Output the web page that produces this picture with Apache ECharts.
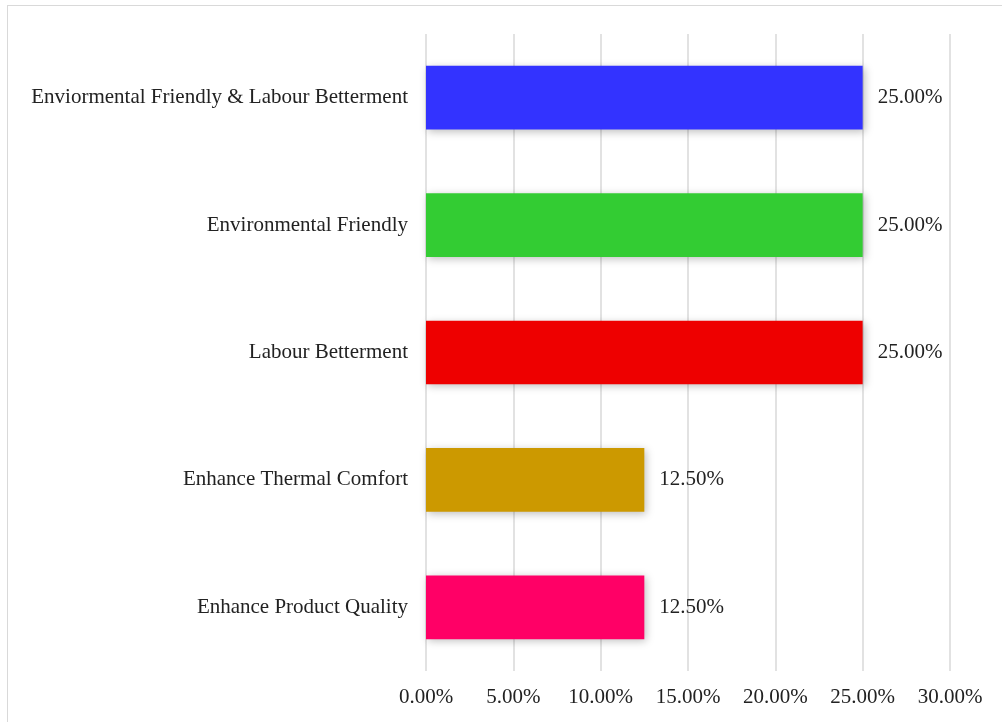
<!DOCTYPE html>
<html><head><meta charset="utf-8">
<script src="https://cdn.jsdelivr.net/npm/echarts@6/dist/echarts.min.js"></script>
<style>
html,body{margin:0;padding:0;background:#fff;}
#frame{position:absolute;left:7px;top:5px;width:1000px;height:720px;border:1.5px solid #d9d9d9;box-sizing:border-box;}
#c{position:absolute;left:0;top:0;width:1002px;height:722px;}
</style></head>
<body><div id="frame"></div><div id="c"></div>
<script>
const categories = ["Enhance Product Quality","Enhance Thermal Comfort","Labour Betterment","Environmental Friendly","Enviormental Friendly & Labour Betterment"];
const values = [12.5, 12.5, 25, 25, 25];
const colors = ["#ff0066","#cc9900","#ee0000","#33cc33","#3333ff"];
const xTicks = [0,5,10,15,20,25,30];
const chart = echarts.init(document.getElementById('c'));
const font = '"Liberation Serif","Times New Roman",serif';
chart.setOption({
  animation:false,
  grid:{left:426,right:52,top:34,bottom:51,containLabel:false},
  xAxis:{type:'value',min:xTicks[0],max:xTicks[xTicks.length-1],interval:5,
    axisLine:{show:false},axisTick:{show:false},
    splitLine:{lineStyle:{color:'#d9d9d9',width:1.5}},
    axisLabel:{formatter:v=>v.toFixed(2)+'%',fontFamily:font,fontSize:21,color:'#222',margin:16}},
  yAxis:{type:'category',data:categories,axisLine:{show:false},axisTick:{show:false},
    axisLabel:{fontFamily:font,fontSize:21,color:'#222',margin:18,padding:[6,0,0,0]}},
  series:[{type:'bar',barWidth:'50%',
    data:values.map((v,i)=>({value:v,itemStyle:{color:colors[i]}})),
    itemStyle:{shadowColor:'rgba(0,0,0,0.25)',shadowBlur:8,shadowOffsetX:2,shadowOffsetY:2},
    label:{show:true,position:'right',distance:15,padding:[6,0,0,0],formatter:p=>p.value.toFixed(2)+'%',fontFamily:font,fontSize:21,color:'#222'}}]
});
</script></body></html>
